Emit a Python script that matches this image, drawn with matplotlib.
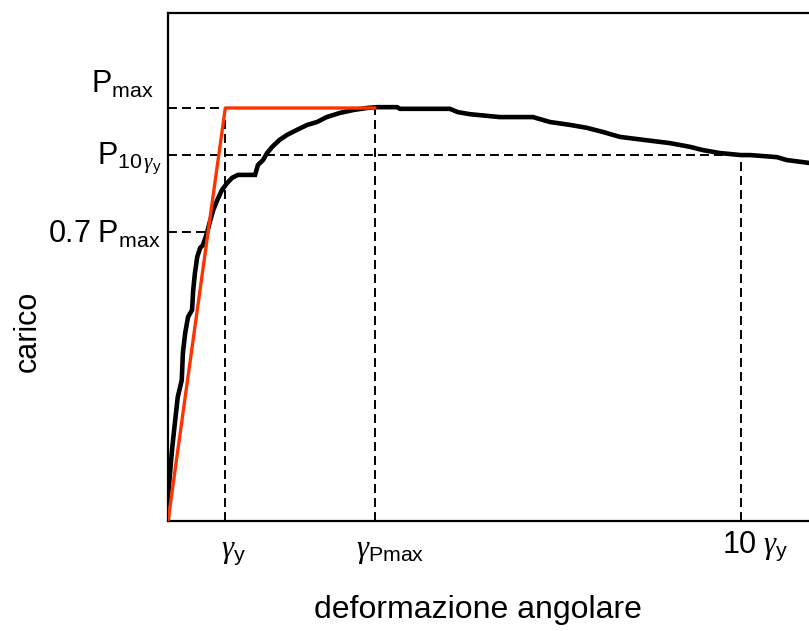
import numpy as np
import matplotlib
matplotlib.use("Agg")
import matplotlib.pyplot as plt

plt.rcParams['font.family'] = ['Liberation Sans', 'DejaVu Sans']
plt.rcParams['mathtext.fontset'] = 'custom'
plt.rcParams['mathtext.rm'] = 'Liberation Sans'
plt.rcParams['mathtext.it'] = 'Liberation Serif:italic'

# measured load-deformation curve (x in units of gamma_y, y in units of Pmax)
gamma = [0.00, 0.00, 0.07, 0.12, 0.17, 0.24, 0.26, 0.30, 0.35, 0.42, 0.44, 0.47,
         0.51, 0.56, 0.61, 0.68, 0.73, 0.79, 0.86, 0.94, 1.03, 1.12, 1.22, 1.52,
         1.57, 1.66, 1.73, 1.82, 1.95, 2.08, 2.25, 2.43, 2.60, 2.77, 3.00, 3.23,
         3.47, 3.65, 4.00, 4.05, 4.92, 5.06, 5.27, 5.79, 6.37, 6.67, 7.02, 7.31,
         7.59, 7.89, 8.29, 8.76, 9.11, 9.34, 9.63, 10.00, 10.16, 10.63, 10.80, 11.19]
load = [0.000, 0.058, 0.172, 0.237, 0.300, 0.341, 0.407, 0.455, 0.494, 0.511, 0.559, 0.600,
        0.639, 0.661, 0.668, 0.697, 0.724, 0.753, 0.777, 0.801, 0.818, 0.831, 0.838, 0.838,
        0.862, 0.874, 0.891, 0.906, 0.923, 0.935, 0.947, 0.959, 0.966, 0.978, 0.988, 0.995,
        1.000, 1.002, 1.002, 0.998, 0.998, 0.990, 0.985, 0.978, 0.978, 0.966, 0.959, 0.952,
        0.942, 0.930, 0.923, 0.915, 0.906, 0.898, 0.891, 0.886, 0.886, 0.881, 0.874, 0.867]

# reference values
gamma_y = 1.0
gamma_pmax = 3.61
gamma_10 = 10.0
p_max = 1.0
p_10 = 0.886
p_07 = 0.7

# bilinear idealisation
bil_x = [0.0, gamma_y, gamma_pmax]
bil_y = [0.0, p_max, p_max]

fig = plt.figure(figsize=(8.09, 6.31), dpi=100)
ax = fig.add_axes([168/809, 110/631, 641/809, 508/631])

dash = dict(color='black', lw=1.4, linestyle=(0, (4.6, 2.6)))
ax.plot([0, gamma_pmax], [p_max, p_max], **dash)
ax.plot([0, gamma_10], [p_10, p_10], **dash)
ax.plot([0, 0.68], [p_07, p_07], **dash)
ax.plot([gamma_y, gamma_y], [0, p_max], **dash)
ax.plot([gamma_pmax, gamma_pmax], [0, p_max], **dash)
ax.plot([gamma_10, gamma_10], [0, p_10], **dash)

ax.plot(gamma, load, color='black', lw=3.3, solid_joinstyle='miter', zorder=3)
ax.plot(bil_x, bil_y, color='#ff3300', lw=2.4, zorder=4)

ax.set_xlim(0, 11.19)
ax.set_ylim(0, 1.23)
ax.set_xticks([])
ax.set_yticks([])
ax.spines['right'].set_visible(False)
for s in ['left', 'top', 'bottom']:
    ax.spines[s].set_linewidth(1.6)

# y labels
ylab = dict(xycoords=('axes fraction', 'data'), textcoords='offset pixels',
            ha='right', fontsize=22, annotation_clip=False)
ax.annotate(r'$\mathregular{P_{max}}$', (0, p_max), xytext=(-14, 8), va='bottom', **ylab)
ax.annotate(r'$\mathregular{P}_{\mathregular{10\,}\mathit{γ}_{\mathregular{y}}}$', (0, p_10),
            xytext=(-6, -4), va='center', **ylab)
ax.annotate(r'$\mathregular{0.7\ P_{max}}$', (0, p_07), xytext=(-8, -3), va='center', **ylab)

# x labels
xlab = dict(xycoords='data', textcoords='offset pixels', va='top',
            fontsize=22, annotation_clip=False)
ax.annotate(r'$\mathit{γ}_{\mathregular{y}}$', (gamma_y, 0), xytext=(8, -16), ha='center', **xlab)
ax.annotate(r'$\mathit{γ}_{\mathregular{Pmax}}$', (gamma_pmax, 0), xytext=(15, -15), ha='center', **xlab)
ax.annotate(r'$\mathregular{10\ }\mathit{γ}_{\mathregular{y}}$', (gamma_10, 0), xytext=(14, -8),
            ha='center', **xlab)

fig.text(478/809, 1 - 610/631, 'deformazione angolare', ha='center', va='center', fontsize=23)
fig.text(28/809, 1 - 331/631, 'carico', ha='center', va='center', rotation=90, fontsize=22)

fig.savefig('out.png', dpi=100)
